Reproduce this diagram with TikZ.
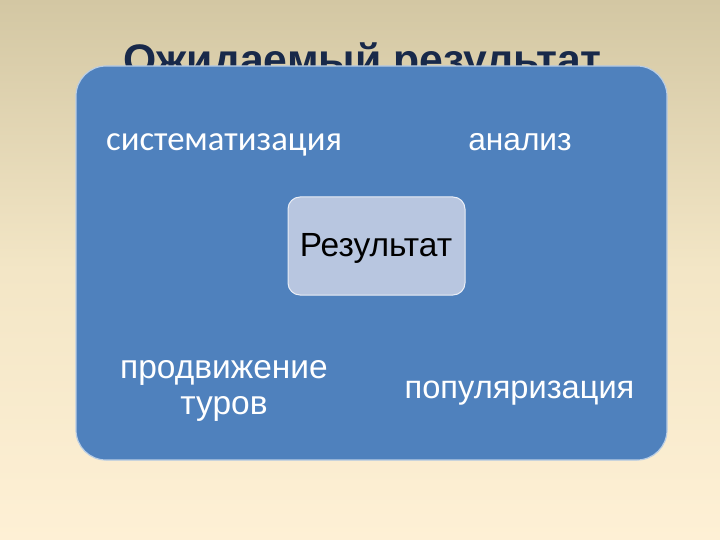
\documentclass[tikz,border=0pt]{standalone}
\usepackage{fontspec}
\setmainfont{Liberation Sans}
\newfontfamily\calfont{Carlito}
\definecolor{bgtop}{HTML}{D3C7A3}
\definecolor{bgmid}{HTML}{F3E6C6}
\definecolor{bgbot}{HTML}{FEF0D5}
\definecolor{bluebox}{HTML}{4F81BD}
\definecolor{lightbox}{HTML}{B8C6E0}
\definecolor{titlecol}{HTML}{18294A}
\tikzset{
  lbl/.style={text=white, align=center, inner sep=0pt},
}
\begin{document}
\begin{tikzpicture}[x=1pt,y=-1pt]
\useasboundingbox (0,0) rectangle (720,540);
\shade[top color=bgtop, bottom color=bgbot, middle color=bgmid] (0,0) rectangle (720,540);
\node[anchor=base, font=\bfseries\fontsize{42.7}{50}\selectfont, text=titlecol, inner sep=0pt] (title) at (362.5,75) {Ожидаемый результат};
\draw[white!60!bluebox, line width=1.2pt, fill=bluebox, rounded corners=30pt] (76,66) rectangle (667,460);
\node[draw=white!70!lightbox, line width=1pt, fill=lightbox, rounded corners=12pt, minimum width=177pt, minimum height=98pt, inner sep=0pt] (res) at (376.5,246) {};
\node[text=black, font=\fontsize{33.5}{38}\selectfont, inner sep=0pt] (restext) at (376,248) {Результат};
\node[lbl, font=\calfont\fontsize{34.7}{40}\selectfont] (sys) at (224,145) {систематизация};
\node[lbl, font=\fontsize{31.7}{36}\selectfont] (an) at (520,142) {анализ};
\node[lbl, font=\fontsize{33.5}{36}\selectfont] (prod) at (224,391) {продвижение\\туров};
\node[lbl, font=\fontsize{32.6}{38}\selectfont] (pop) at (519.5,393) {популяризация};
\end{tikzpicture}
\end{document}
